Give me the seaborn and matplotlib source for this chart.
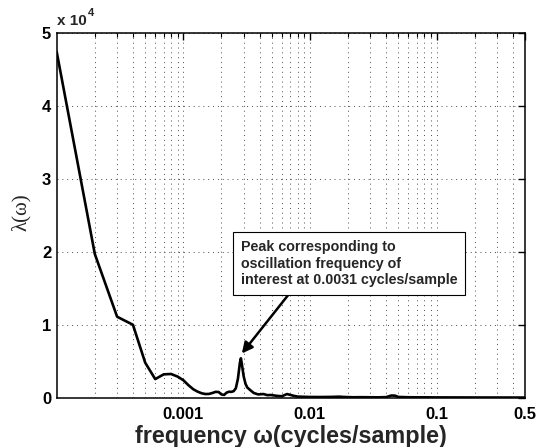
import numpy as np
import pandas as pd
import matplotlib
matplotlib.use("Agg")
import matplotlib.pyplot as plt
from matplotlib.ticker import LogLocator, NullFormatter, FixedLocator, FixedFormatter
import seaborn as sns

# ---- data ----
freq = [1e-4, 2e-4, 3e-4, 4e-4, 5e-4, 6e-4, 7e-4, 8e-4, 9e-4,
        1.0e-3, 1.1e-3, 1.2e-3, 1.3e-3, 1.4e-3, 1.5e-3, 1.6e-3, 1.7e-3, 1.8e-3, 1.9e-3,
        2.0e-3, 2.1e-3, 2.2e-3, 2.3e-3, 2.4e-3, 2.5e-3, 2.6e-3, 2.7e-3, 2.8e-3, 2.85e-3,
        2.9e-3, 3.0e-3, 3.1e-3, 3.2e-3, 3.4e-3, 3.6e-3, 3.9e-3, 4.3e-3, 4.6e-3, 4.9e-3,
        5.5e-3, 6.0e-3, 6.6e-3, 7.4e-3, 8e-3, 9e-3, 0.01, 0.012, 0.015, 0.017, 0.019,
        0.022, 0.025, 0.03, 0.035, 0.04, 0.044, 0.047, 0.05, 0.06, 0.08, 0.1, 0.2, 0.3, 0.5]
lam = [47400, 19700, 11100, 10000, 4800, 2550, 3200, 3250, 2900,
       2400, 1700, 1150, 820, 600, 500, 520, 650, 800, 780,
       450, 380, 700, 820, 800, 900, 1300, 2600, 4800, 5400,
       4600, 2900, 1900, 1400, 1000, 650, 450, 500, 350, 370,
       250, 200, 500, 270, 150, 120, 100, 90, 110, 140, 90,
       60, 70, 60, 50, 80, 300, 280, 100, 60, 50, 40, 30, 25, 20]

xtick_vals = [0.001, 0.01, 0.1, 0.5]
xtick_labels = ["0.001", "0.01", "0.1", "0.5"]
ytick_vals = [0, 10000, 20000, 30000, 40000, 50000]
ytick_labels = ["0", "1", "2", "3", "4", "5"]

annot_text = "Peak corresponding to\noscillation frequency of\ninterest at 0.0031 cycles/sample"
peak_xy = (2.9e-3, 6060)
annot_xy = (2.834e-3, 21570)

df = pd.DataFrame({"freq": freq, "lam": lam})

sns.set_style("white")
plt.rcParams["font.family"] = ["Liberation Sans", "DejaVu Sans"]

fig = plt.figure(figsize=(5.36, 4.47), dpi=100)
ax = fig.add_axes([0.1058, 0.1103, 0.8737, 0.8159])

sns.lineplot(data=df, x="freq", y="lam", ax=ax, color="black", linewidth=1.9,
             sort=False, estimator=None)

ax.set_xscale("log")
ax.set_xlim(1e-4, 0.5)
ax.set_ylim(0, 50000)

ax.xaxis.set_major_locator(FixedLocator(xtick_vals))
ax.xaxis.set_major_formatter(FixedFormatter(xtick_labels))
ax.xaxis.set_minor_locator(LogLocator(base=10, subs=np.arange(2, 10), numticks=20))
ax.xaxis.set_minor_formatter(NullFormatter())
ax.yaxis.set_major_locator(FixedLocator(ytick_vals))
ax.yaxis.set_major_formatter(FixedFormatter(ytick_labels))

grid_kw = dict(color="0.3", linewidth=0.7, linestyle=(0, (1, 4)))
ax.grid(True, which="major", axis="both", **grid_kw)
ax.grid(True, which="minor", axis="x", **grid_kw)

ax.tick_params(axis="both", which="both", direction="in", top=True, right=True, colors="black")
ax.tick_params(axis="both", which="major", length=5, width=1.0)
ax.tick_params(axis="x", which="minor", length=3, width=0.8)
ax.tick_params(axis="x", which="major", pad=7)
ax.tick_params(axis="y", which="major", pad=4)
for lbl in ax.get_xticklabels() + ax.get_yticklabels():
    lbl.set_fontweight("bold")
    lbl.set_fontsize(12)

for sp in ax.spines.values():
    sp.set_visible(True)
    sp.set_color("black")
    sp.set_linewidth(1.1)

ax.set_xlabel("")
ax.set_ylabel("")

fig.text(0.5425, 0.0246, "frequency \u03c9(cycles/sample)", ha="center", va="center",
         fontsize=16.8, fontweight="bold")
fig.text(0.040, 0.526, "\u03bb(\u03c9)", ha="center", va="center", rotation=90,
         fontsize=15, family=["Liberation Serif", "DejaVu Serif"])

fig.text(57 / 536, 1 - 25 / 447, "x 10", ha="left", va="baseline", fontsize=11, fontweight="bold")
fig.text(88 / 536, 1 - 16 / 447, "4", ha="left", va="baseline", fontsize=8, fontweight="bold")

ax.annotate(annot_text, xy=peak_xy, xycoords="data", xytext=annot_xy, textcoords="data",
            ha="left", va="top", fontsize=10.3, fontweight="bold", linespacing=1.2,
            bbox=dict(boxstyle="square,pad=0.55", fc="white", ec="black", lw=0.8),
            arrowprops=dict(arrowstyle="-|>", color="black", lw=1.8, relpos=(0.25, 0),
                            shrinkA=0, shrinkB=0, mutation_scale=16))

fig.savefig("out.png", dpi=100)
